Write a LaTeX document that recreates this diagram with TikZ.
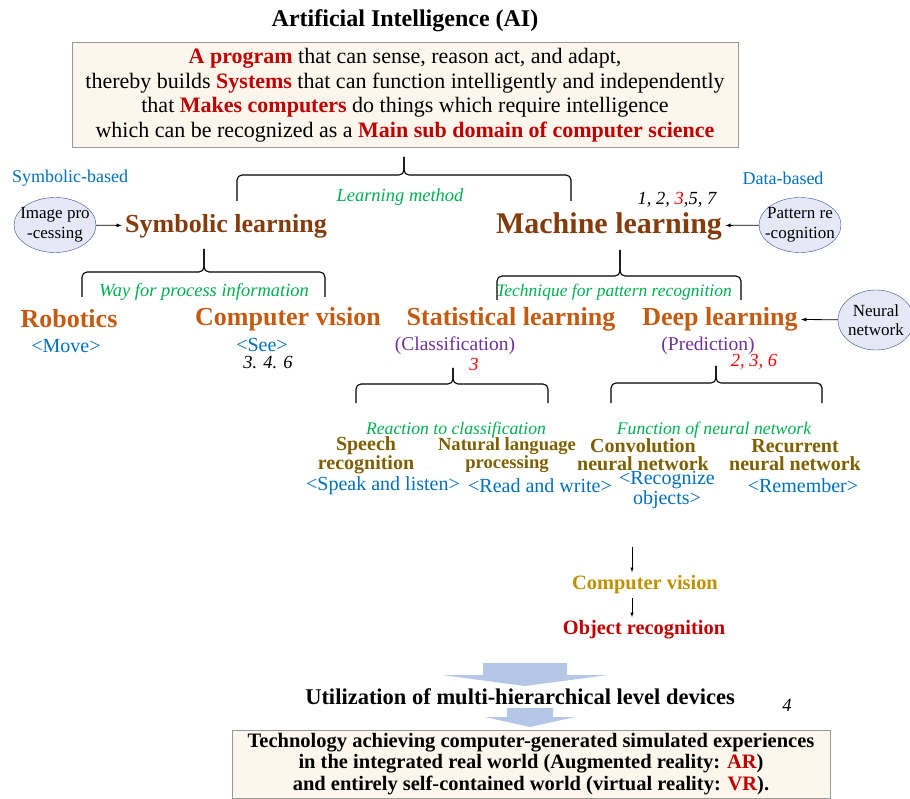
\documentclass[tikz,border=0pt]{standalone}
\usepackage{fontspec}
\setmainfont{Liberation Serif}
\usepackage{tikz}
\usetikzlibrary{arrows}
\usetikzlibrary{calc}
\usetikzlibrary{shapes.geometric}

\definecolor{darkred}{HTML}{C00000}
\definecolor{brownish}{HTML}{843C0C}
\definecolor{orangebrown}{HTML}{C55A11}
\definecolor{skyblue}{HTML}{0070C0}
\definecolor{leafgreen}{HTML}{00B050}
\definecolor{plum}{HTML}{7030A0}
\definecolor{oliveb}{HTML}{7F6000}
\definecolor{goldb}{HTML}{BF9000}
\definecolor{cream}{HTML}{FDF6EC}
\definecolor{ovalfill}{HTML}{E6E8F8}
\definecolor{ovaldraw}{HTML}{2F5597}
\definecolor{arrowblue}{HTML}{B4C7E7}

\tikzset{
    title/.style={font=\bfseries\fontsize{24}{28}\selectfont},
    defbox/.style={draw=gray!80, fill=cream, align=center, font=\fontsize{22}{24.5}\selectfont},
    basis/.style={text=skyblue, font=\fontsize{18}{21}\selectfont},
    oval/.style={ellipse, draw=ovaldraw, fill=ovalfill, align=center, inner xsep=-8pt, inner ysep=-2pt, font=\fontsize{17}{19.5}\selectfont, minimum width=82pt, minimum height=55pt},
    method/.style={text=brownish, font=\bfseries\fontsize{26}{30}\selectfont},
    field/.style={text=orangebrown, font=\bfseries\fontsize{26}{30}\selectfont},
    note/.style={text=leafgreen, font=\itshape\fontsize{18.5}{21}\selectfont},
    role/.style={text=skyblue, align=center, font=\fontsize{20}{16}\selectfont},
    task/.style={text=plum, font=\fontsize{19.5}{22}\selectfont},
    ref/.style={font=\itshape\fontsize{18.5}{21}\selectfont},
    app/.style={text=oliveb, align=center, font=\bfseries\fontsize{20}{18}\selectfont},
    capbrace/.style={draw, line width=1.1pt, rounded corners=5pt},
    bigarrow/.style={fill=arrowblue},
    >=latex
}

% brace: #1 tip, #2 left end, #3 right end, #4 depth of the tip
\newcommand{\grpbrace}[4]{%
    \draw[capbrace] (#2) |- ($(#1)+(0,#4)$) -- (#1);
    \draw[capbrace] (#3) |- ($(#1)+(0,#4)$) -- (#1);
}
% wide arrow: #1 top middle, #2 half width of shaft, #3 shaft length, #4 half width of head, #5 head length
\newcommand{\fatarrow}[5]{%
    \fill[bigarrow] (#1) ++(-#2,0) -- ++(2*#2,0) -- ++(0,#3) -- ++(#4-#2,0)
        -- ++(-#4,#5) -- ++(-#4,-#5) -- ++(#4-#2,0) -- cycle;
}

\begin{document}
\begin{tikzpicture}[x=1pt, y=-1pt]
    \useasboundingbox (0,0) rectangle (910,799);

    \node[title](ai) at (405,21) {Artificial Intelligence (AI)};
    \node[defbox, minimum width=666pt, minimum height=105pt](def) at (405,95) {%
        \textcolor{darkred}{\bfseries A program} that can sense, reason act, and adapt,\\
        thereby builds \textcolor{darkred}{\bfseries Systems} that can function intelligently and independently\\
        that \textcolor{darkred}{\bfseries Makes computers} do things which require intelligence\\
        which can be recognized as a \textcolor{darkred}{\bfseries Main sub domain of computer science}};

    \node[basis](symb) at (70,178) {Symbolic-based};
    \node[basis](datab) at (783,178) {Data-based};
    \coordinate (b1t) at (404,157);
    \coordinate (b1l) at (237,201);
    \coordinate (b1r) at (571,201);
    \grpbrace{b1t}{b1l}{b1r}{18}
    \node[note](lm) at (400,197) {Learning method};

    \node[oval](imgp) at (55,225) {Image pro\\-cessing};
    \node[method](sl) at (226,226) {Symbolic learning};
    \node[method, font=\bfseries\fontsize{30}{34}\selectfont](ml) at (609,226) {Machine learning};
    \node[ref](mlref) at (677,200) {1, 2, \textcolor{red}{3},5, 7};
    \node[oval](patr) at (800,225) {Pattern re\\-cognition};
    \draw[->, thick] (imgp) -- (sl);
    \draw[->, thick] (patr) -- (ml);

    \coordinate (b2t) at (204,249);
    \coordinate (b2l) at (82,297);
    \coordinate (b2r) at (325,297);
    \grpbrace{b2t}{b2l}{b2r}{23}
    \coordinate (b3t) at (620,250);
    \coordinate (b3l) at (497,300);
    \coordinate (b3r) at (741,300);
    \grpbrace{b3t}{b3l}{b3r}{26}
    \node[note](wpi) at (204,292) {Way for process information};
    \node[note, font=\itshape\fontsize{17.5}{20}\selectfont](tpr) at (614,292) {Technique for pattern recognition};

    \node[field](rob) at (69,319) {Robotics};
    \node[field](cv) at (288,319) {Computer vision};
    \node[field](stl) at (511,319) {Statistical learning};
    \node[field](dl) at (720,319) {Deep learning};
    \node[oval, minimum width=76pt, minimum height=60pt](nn) at (876,320) {Neural\\network};
    \draw[->, thick] (nn) -- (dl);

    \node[role](move) at (66,346) {<Move>};
    \node[role](see) at (262,345) {<See>};
    \node[ref](cvref) at (268,363) {3. 4. 6};
    \node[task](cls) at (455,346) {(Classification)};
    \node[ref, text=red](clsref) at (474,364) {3};
    \node[task](pred) at (708,346) {(Prediction)};
    \node[ref, text=red](predref) at (754,362) {2, 3, 6};

    \coordinate (b4t) at (453,368);
    \coordinate (b4l) at (356,403);
    \coordinate (b4r) at (548,403);
    \grpbrace{b4t}{b4l}{b4r}{16}
    \coordinate (b5t) at (716,366);
    \coordinate (b5l) at (611,403);
    \coordinate (b5r) at (822,403);
    \grpbrace{b5t}{b5l}{b5r}{17}

    \node[note, font=\itshape\fontsize{17.7}{20}\selectfont](rtc) at (456,430) {Reaction to classification};
    \node[note, font=\itshape\fontsize{17.7}{20}\selectfont](fnn) at (714,430) {Function of neural network};
    \node[app](speech) at (366,455) {Speech\\recognition};
    \node[app, font=\bfseries\fontsize{18.6}{18}\selectfont](nlp) at (507,455) {Natural language\\processing};
    \node[app](cnn) at (643,455) {Convolution\\neural network};
    \node[app](rnn) at (795,455) {Recurrent\\neural network};
    \node[role](speak) at (383,486) {<Speak and listen>};
    \node[role](rw) at (540,486) {<Read and write>};
    \node[role](reco) at (667,490) {<Recognize\\objects>};
    \node[role](rem) at (803,486) {<Remember>};

    \coordinate (cvin) at (632,547);
    \node[text=goldb, font=\bfseries\fontsize{20.4}{23}\selectfont](cvis) at (645,585) {Computer vision};
    \node[text=darkred, font=\bfseries\fontsize{20.4}{23}\selectfont](objr) at (644,630) {Object recognition};
    \draw[->, semithick] (cvin) -- (cvin |- cvis.north);
    \draw[->, semithick] (cvis.south -| cvin) -- (objr.north -| cvin);

    \coordinate (ar1) at (525,663);
    \fatarrow{ar1}{42}{12}{83}{11}
    \node[font=\bfseries\fontsize{22.5}{26}\selectfont](util) at (520,697) {Utilization of multi-hierarchical level devices};
    \node[ref](uref) at (787,705) {4};
    \coordinate (ar2) at (530,708);
    \fatarrow{ar2}{23}{9}{45}{10}

    \node[defbox, font=\bfseries\fontsize{20.5}{21.5}\selectfont, minimum width=598pt, anchor=north, inner ysep=3pt](tech) at (531,730) {%
        Technology achieving computer-generated simulated experiences\\
        in the integrated real world (Augmented reality: \textcolor{darkred}{AR})\\
        and entirely self-contained world (virtual reality: \textcolor{darkred}{VR}).};
\end{tikzpicture}
\end{document}
